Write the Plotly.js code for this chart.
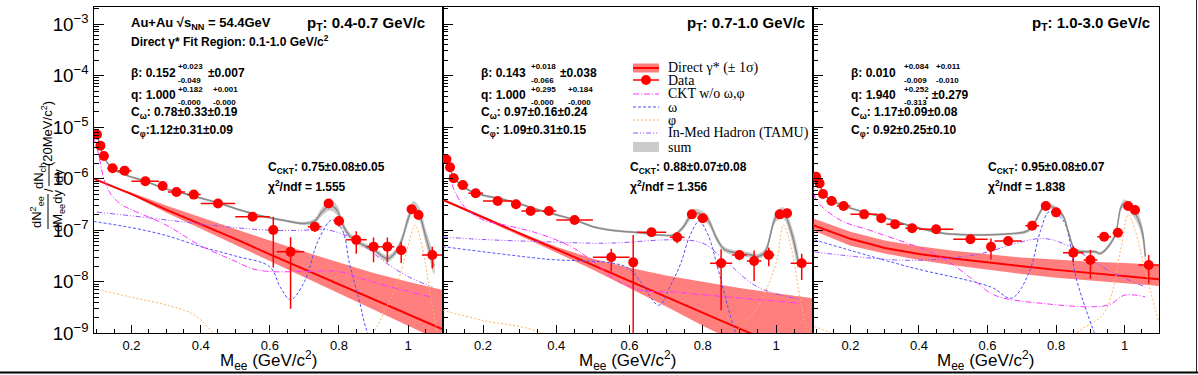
<!DOCTYPE html>
<html><head><meta charset="utf-8">
<script src="https://cdn.plot.ly/plotly-3.0.1.min.js"></script>
<style>body{margin:0;padding:0;background:#fff}#chart{width:1198px;height:375px}</style>
</head><body><div id="chart"></div>
<script>
// ---------- data points (common mass bins) ----------
const mass    = [0.10,0.11,0.12,0.145,0.18,0.24,0.29,0.33,0.38,0.45,0.55,0.61,0.66,0.73,0.77,0.80,0.85,0.90,0.94,0.98,1.01,1.03,1.07];
const massErr = [0.005,0.005,0.01,0.015,0.02,0.04,0.01,0.025,0.02,0.05,0.05,0.01,0.04,0.02,0.01,0.015,0.03,0.02,0.02,0.015,0.01,0.01,0.03];
const p1Y   = [7.2e-6,4.35e-6,2.75e-6,1.59e-6,1.43e-6,8.9e-7,7.2e-7,5.5e-7,4.9e-7,3.3e-7,1.83e-7,1.01e-7,3.8e-8,1.17e-7,3.3e-7,1.51e-7,6.5e-8,4.8e-8,4.8e-8,4.1e-8,2.54e-7,1.97e-7,3.3e-8];
const p1Err = [4e-7,2.5e-7,1.5e-7,1e-7,8e-8,5e-8,1.2e-7,4e-8,3e-8,2e-8,1.5e-8,8.2e-8,3.5e-8,2.4e-8,4e-8,3.4e-8,3e-8,2.4e-8,2.4e-8,1.8e-8,3e-8,2.5e-8,1.5e-8];
const p2Y   = [2.37e-6,1.66e-6,1.02e-6,7.5e-7,5.2e-7,3.68e-7,3.18e-7,2.36e-7,2.36e-7,1.58e-7,2.98e-8,2.38e-8,9.1e-8,7.3e-8,2.03e-7,1.7e-7,2.28e-8,3.3e-8,2.53e-8,3.3e-8,2.03e-7,2.13e-7,2.28e-8];
const p2Err = [1.5e-7,1e-7,7e-8,5e-8,3e-8,2.5e-8,2e-8,1.5e-8,1.5e-8,1.2e-8,1.4e-8,5.7e-8,1e-8,1.7e-8,2e-8,2e-8,2e-8,7e-9,1.5e-8,1.3e-8,2.5e-8,2.5e-8,1.2e-8];
const p3Y   = [1.09e-6,8.1e-7,5.04e-7,3.68e-7,2.94e-7,2.03e-7,1.7e-7,1.3e-7,1.09e-7,1.04e-7,6.65e-8,4.79e-8,6.16e-8,1.22e-7,2.94e-7,2.22e-7,3.66e-8,2.64e-8,7.48e-8,8.93e-8,2.94e-7,2.47e-7,2.11e-8];
const p3Err = [6e-8,4e-8,3e-8,2e-8,1.5e-8,1.2e-8,1e-8,8e-9,7e-9,6e-9,5e-9,2.1e-8,8e-9,1.2e-8,2e-8,1.8e-8,1.3e-8,1.5e-8,8e-9,8e-9,2e-8,2e-8,1.2e-8];

// ---------- direct photon (central, +1 sigma, -1 sigma) ----------
const directM  = [0.09,0.15,0.2,0.3,0.4,0.5,0.6,0.7,0.8,0.9,1.0,1.1];
const p1Direct   = [1.0e-6,6.8e-7,5.0e-7,2.5e-7,1.32e-7,6.8e-8,3.4e-8,1.74e-8,8.9e-9,4.6e-9,2.3e-9,1.2e-9];
const p1DirectHi = [1.0e-6,6.9e-7,5.4e-7,3.0e-7,1.78e-7,1.05e-7,6.3e-8,3.8e-8,2.34e-8,1.48e-8,1.0e-8,6.9e-9];
const p1DirectLo = [1.0e-6,6.6e-7,4.8e-7,2.2e-7,1.07e-7,5.1e-8,2.5e-8,1.2e-8,5.9e-9,2.8e-9,1.4e-9,6.8e-10];
const p2Direct   = [3.9e-7,2.5e-7,1.78e-7,8.7e-8,4.27e-8,2.14e-8,1.05e-8,5.1e-9,2.5e-9,1.23e-9,6.3e-10,3.2e-10];
const p2DirectHi = [3.9e-7,2.57e-7,1.82e-7,9.1e-8,4.8e-8,2.8e-8,1.86e-8,1.32e-8,1.0e-8,7.6e-9,6.0e-9,4.8e-9];
const p2DirectLo = [3.8e-7,2.45e-7,1.7e-7,7.9e-8,3.7e-8,1.7e-8,7.6e-9,3.3e-9,1.4e-9,6.3e-10,2.8e-10,1.26e-10];
const p3Direct   = [1.26e-7,8.9e-8,6.8e-8,4.5e-8,3.47e-8,2.82e-8,2.34e-8,2.0e-8,1.7e-8,1.48e-8,1.29e-8,1.12e-8];
const p3DirectHi = [1.7e-7,1.23e-7,9.3e-8,6.3e-8,4.9e-8,4.0e-8,3.4e-8,2.95e-8,2.7e-8,2.45e-8,2.3e-8,2.14e-8];
const p3DirectLo = [1.0e-7,6.9e-8,5.0e-8,3.55e-8,2.63e-8,2.1e-8,1.7e-8,1.41e-8,1.2e-8,1.05e-8,9.3e-9,8.3e-9];

// ---------- sum of all sources (central + relative band half-width) ----------
const p1SumM = [0.1,0.11,0.12,0.145,0.18,0.24,0.3,0.35,0.4,0.45,0.5,0.55,0.6,0.65,0.7,0.73,0.75,0.775,0.795,0.81,0.83,0.86,0.9,0.94,0.96,0.98,1.0,1.015,1.03,1.05,1.075];
const p1Sum  = [7.1e-6,4.2e-6,2.6e-6,1.58e-6,1.2e-6,8.9e-7,6.3e-7,5.2e-7,4.2e-7,3.4e-7,2.63e-7,2.1e-7,1.74e-7,1.51e-7,1.35e-7,1.51e-7,2.24e-7,3.0e-7,2.4e-7,1.32e-7,7.9e-8,5.6e-8,4.2e-8,2.8e-8,3.5e-8,6.0e-8,1.66e-7,2.8e-7,2.24e-7,7.9e-8,2.0e-8];
const p1SumErr = [0.05,0.05,0.05,0.05,0.05,0.05,0.05,0.05,0.05,0.05,0.05,0.05,0.06,0.06,0.08,0.12,0.2,0.25,0.25,0.2,0.15,0.12,0.12,0.15,0.15,0.2,0.25,0.3,0.35,0.4,0.45];
const p2SumM = [0.1,0.11,0.12,0.145,0.18,0.24,0.29,0.35,0.45,0.5,0.55,0.63,0.72,0.745,0.775,0.81,0.84,0.86,0.93,0.95,0.97,1.0,1.02,1.04,1.06];
const p2Sum  = [2.4e-6,1.58e-6,1.05e-6,7.1e-7,5.2e-7,4.2e-7,3.4e-7,2.5e-7,1.58e-7,1.17e-7,1.0e-7,8.9e-8,8.1e-8,1.12e-7,2.14e-7,1.7e-7,6.5e-8,4.2e-8,3.3e-8,3.1e-8,3.8e-8,1.82e-7,2.14e-7,1.0e-7,2.6e-8];
const p2SumErr = [0.05,0.05,0.05,0.05,0.05,0.05,0.05,0.05,0.05,0.05,0.05,0.05,0.05,0.12,0.2,0.2,0.15,0.12,0.12,0.12,0.15,0.25,0.3,0.35,0.45];
const p3SumM = [0.1,0.11,0.12,0.145,0.185,0.24,0.29,0.385,0.47,0.566,0.66,0.72,0.765,0.779,0.818,0.837,0.856,0.914,0.93,0.97,0.99,1.0,1.03,1.05,1.06];
const p3Sum  = [1.1e-6,7.9e-7,5.2e-7,3.8e-7,2.9e-7,2.24e-7,1.82e-7,1.17e-7,8.7e-8,8.1e-8,8.5e-8,1.0e-7,2.9e-7,3.0e-7,2.0e-7,8.7e-8,4.2e-8,3.8e-8,3.55e-8,7.4e-8,2.9e-7,3.3e-7,2.14e-7,1.0e-7,3.1e-8];
const p3SumErr = [0.05,0.05,0.05,0.05,0.05,0.05,0.05,0.05,0.05,0.05,0.05,0.08,0.12,0.12,0.12,0.1,0.08,0.08,0.08,0.1,0.15,0.2,0.3,0.35,0.4];

// ---------- CKT w/o omega,phi ----------
const p1CktM = [0.09,0.1,0.11,0.12,0.14,0.17,0.2,0.3,0.4,0.5,0.55,0.6,0.7,0.8,0.87,0.95,1.07];
const p1Ckt  = [6.3e-6,4.0e-6,2.0e-6,1.0e-6,5.0e-7,3.16e-7,2.5e-7,1.26e-7,5.0e-8,2.5e-8,1.78e-8,1.58e-8,1.58e-8,1.58e-8,1.12e-8,7.9e-9,5.0e-9];
const p2CktM = [0.09,0.1,0.11,0.12,0.15,0.2,0.26,0.35,0.44,0.5,0.56,0.63,0.72,0.85,0.95,1.07];
const p2Ckt  = [3.16e-6,2.0e-6,1.12e-6,6.3e-7,2.8e-7,1.58e-7,1.26e-7,8.7e-8,4.8e-8,2.5e-8,1.12e-8,6.9e-9,6.3e-9,5.2e-9,4.5e-9,3.8e-9];
const p3CktM = [0.09,0.1,0.17,0.27,0.46,0.56,0.62,0.76,0.95,1.0,1.06];
const p3Ckt  = [7.9e-7,3.9e-7,1.58e-7,9.3e-8,3.1e-8,1.07e-8,5.5e-9,3.8e-9,3.5e-9,5.5e-9,5.1e-9];

// ---------- omega ----------
const p1OmegaM = [0.09,0.2,0.3,0.4,0.5,0.6,0.63,0.66,0.7,0.74,0.78,0.81,0.83,0.86,0.88,0.95];
const p1Omega  = [1.48e-7,1.12e-7,7.9e-8,4.8e-8,3.16e-8,1.95e-8,7.9e-9,4.5e-9,1.0e-8,6.3e-8,1.58e-7,1.0e-7,2.3e-8,4.0e-9,1.15e-9,1e-10];
const p2OmegaM = [0.09,0.36,0.59,0.63,0.68,0.71,0.74,0.765,0.79,0.815,0.84,0.89,0.95];
const p2Omega  = [4.8e-8,2.8e-8,1.95e-8,1.0e-8,3.5e-9,7.9e-9,2.3e-8,7.9e-8,1.48e-7,7.9e-8,1.95e-8,1.0e-9,1e-10];
const p3OmegaM = [0.095,0.37,0.61,0.67,0.72,0.755,0.78,0.82,0.86,0.91,0.97];
const p3Omega  = [6.5e-8,1.95e-8,7.9e-9,4.8e-9,1.45e-8,1.0e-7,2.3e-7,1.58e-7,1.07e-8,1.07e-9,1e-10];

// ---------- phi ----------
const p1PhiM = [0.09,0.2,0.3,0.38,0.44,0.5,0.85,0.9,0.93,0.97,1.0,1.02,1.04,1.07,1.1];
const p1Phi  = [7.4e-9,5.0e-9,3.55e-9,2.3e-9,9.3e-10,2.5e-10,2.5e-10,1.0e-9,2.5e-9,1.0e-8,5.0e-8,1.26e-7,5.0e-8,3.16e-9,3.16e-10];
const p2PhiM = [0.09,0.2,0.36,0.5,0.85,0.89,0.95,1.0,1.02,1.04,1.07,1.1];
const p2Phi  = [2.8e-9,1.78e-9,1.0e-9,1.6e-10,1.6e-10,1.0e-9,3.3e-9,2.3e-8,1.26e-7,5.0e-8,3.16e-9,3.16e-10];
const p3PhiM = [0.095,0.18,0.3,0.8,0.86,0.94,0.99,1.01,1.03,1.06,1.1];
const p3Phi  = [1.35e-9,7.9e-10,2.5e-10,2.5e-10,1.0e-9,2.5e-9,4.8e-8,2.0e-7,1.0e-7,1.58e-8,1.58e-9];

// ---------- in-medium hadron (TAMU) ----------
const p1TamuM = [0.1,0.2,0.3,0.4,0.5,0.6,0.7,0.75,0.8,0.85,0.9,0.95,1.0,1.07];
const p1Tamu  = [2.24e-7,1.9e-7,1.58e-7,1.32e-7,1.12e-7,1.0e-7,1.0e-7,1.05e-7,8.9e-8,6.3e-8,3.55e-8,2.0e-8,1.26e-8,7.9e-9];
const p2TamuM = [0.09,0.2,0.36,0.54,0.72,0.8,0.86,0.95,1.07];
const p2Tamu  = [7.4e-8,6.6e-8,6.0e-8,5.6e-8,6.5e-8,5.6e-8,2.6e-8,7.9e-9,4.5e-9];
const p3TamuM = [0.095,0.37,0.56,0.76,0.84,0.95,1.06];
const p3Tamu  = [3.8e-8,2.6e-8,3.3e-8,6.9e-8,4.8e-8,1.7e-8,7.9e-9];

// ---------- labels ----------
const xTickVals = [0.2,0.4,0.6,0.8,1];
const xTickText = ['0.2','0.4','0.6','0.8','1'];
const ptLabels = ['p<sub>T</sub>: 0.4-0.7 GeV/c','p<sub>T</sub>: 0.7-1.0 GeV/c','p<sub>T</sub>: 1.0-3.0 GeV/c'];
const legendLabels = ['Direct γ* (± 1σ)','Data','CKT w/o ω,φ','ω','φ','In-Med Hadron (TAMU)','sum'];

// ================= drawing =================
const W = 1198, H = 375;
const PX = x => x / W, PY = y => 1 - y / H;
const COL = {red:'#ff0000', band:'rgba(255,0,0,0.5)', sum:'#8a8a8a', sumBand:'rgba(160,160,160,0.55)',
  ckt:'#ff33ff', omega:'#4d4dff', phi:'#ffb060', tamu:'#9a4dff'};

const panels = [
  {ax:'', y:p1Y, err:p1Err, d:p1Direct, dh:p1DirectHi, dl:p1DirectLo, sm:p1SumM, s:p1Sum, se:p1SumErr,
   cm:p1CktM, c:p1Ckt, om:p1OmegaM, o:p1Omega, fm:p1PhiM, f:p1Phi, tm:p1TamuM, t:p1Tamu},
  {ax:'2', y:p2Y, err:p2Err, d:p2Direct, dh:p2DirectHi, dl:p2DirectLo, sm:p2SumM, s:p2Sum, se:p2SumErr,
   cm:p2CktM, c:p2Ckt, om:p2OmegaM, o:p2Omega, fm:p2PhiM, f:p2Phi, tm:p2TamuM, t:p2Tamu},
  {ax:'3', y:p3Y, err:p3Err, d:p3Direct, dh:p3DirectHi, dl:p3DirectLo, sm:p3SumM, s:p3Sum, se:p3SumErr,
   cm:p3CktM, c:p3Ckt, om:p3OmegaM, o:p3Omega, fm:p3PhiM, f:p3Phi, tm:p3TamuM, t:p3Tamu}
];

const traces = [];
panels.forEach(p => {
  const xa = 'x' + p.ax, ya = 'y' + p.ax;
  const base = {xaxis:xa, yaxis:ya, hoverinfo:'skip', showlegend:false};
  traces.push(Object.assign({}, base, {x: directM.concat(directM.slice().reverse()),
    y: p.dh.concat(p.dl.slice().reverse()), mode:'lines', fill:'toself', fillcolor:COL.band, line:{width:0}}));
  traces.push(Object.assign({}, base, {x: directM, y: p.d, mode:'lines', line:{color:COL.red, width:2}}));
  traces.push(Object.assign({}, base, {x:p.fm, y:p.f, mode:'lines', line:{color:COL.phi, width:1, dash:'2px,2px', shape:'spline'}}));
  traces.push(Object.assign({}, base, {x:p.tm, y:p.t, mode:'lines', line:{color:COL.tamu, width:1, dash:'5px,2px,1px,2px,1px,2px', shape:'spline'}}));
  traces.push(Object.assign({}, base, {x:p.om, y:p.o, mode:'lines', line:{color:COL.omega, width:1, dash:'3px,2px', shape:'spline'}}));
  traces.push(Object.assign({}, base, {x:p.cm, y:p.c, mode:'lines', line:{color:COL.ckt, width:1, dash:'6px,2px,1px,2px', shape:'spline'}}));
  const hi = p.s.map((v,i) => v * (1 + p.se[i]));
  const lo = p.s.map((v,i) => v / (1 + p.se[i]));
  traces.push(Object.assign({}, base, {x: p.sm.concat(p.sm.slice().reverse()), y: hi.concat(lo.slice().reverse()),
    mode:'lines', fill:'toself', fillcolor:COL.sumBand, line:{width:0, shape:'spline'}}));
  traces.push(Object.assign({}, base, {x:p.sm, y:p.s, mode:'lines', line:{color:COL.sum, width:1.5, shape:'spline'}}));
  traces.push(Object.assign({}, base, {x:mass, y:p.y, mode:'markers', marker:{color:COL.red, size:10},
    error_y:{type:'data', array:p.err, color:COL.red, thickness:1.5, width:0},
    error_x:{type:'data', array:massErr, color:COL.red, thickness:1.5, width:0}}));
});

const fontSans = 'Liberation Sans, Arial, sans-serif';
function xAxis(l, r) {
  return {domain:[PX(l), PX(r)], range:[0.09, 1.1], tickmode:'array', tickvals:xTickVals, ticktext:xTickText,
    ticks:'inside', ticklen:8, tickcolor:'#000', tickwidth:1, showgrid:false, zeroline:false,
    showline:true, mirror:true, linecolor:'#000', linewidth:1,
    tickfont:{family:fontSans, size:13, color:'#000'},
    minor:{tickmode:'linear', tick0:0, dtick:0.05, ticks:'inside', ticklen:4, tickcolor:'#000', showgrid:false}};
}
function yAxis(anchor, labels) {
  return {anchor:anchor, type:'log', domain:[PY(333.3), PY(7.3)], range:[-9, -2.676], dtick:1, exponentformat:'power',
    ticks:'inside', ticklen:10, tickcolor:'#000', showgrid:false, zeroline:false,
    showline:true, mirror:true, linecolor:'#000', linewidth:1, showticklabels:labels, ticklabelstandoff:1,
    tickfont:{family:fontSans, size:15, color:'#000'},
    minor:{ticks:'inside', ticklen:5, tickcolor:'#000', dtick:'D1', showgrid:false}};
}

const ann = [];
function T(x, y, text, size, opt) {
  ann.push(Object.assign({xref:'paper', yref:'paper', x:PX(x), y:PY(y), text:text, showarrow:false,
    xanchor:'left', yanchor:'middle', font:{family:fontSans, size:size, color:'#000'}}, opt || {}));
}
const B = s => '<b>' + s + '</b>';

// panel 1 texts
T(129, 23, B('Au+Au √s<sub>NN</sub> = 54.4GeV'), 13);
T(129, 41, B('Direct γ* Fit Region: 0.1-1.0 GeV/c<sup>2</sup>'), 12);
T(427, 23, B(ptLabels[0]), 15, {xanchor:'right'});
T(129, 73, B('β: 0.152'), 12); T(176, 67, B('+0.023'), 8); T(176, 80, B('-0.049'), 8); T(206, 73, B('±0.007'), 12);
T(129, 95, B('q: 1.000'), 12); T(176, 89, B('+0.182'), 8); T(176, 102, B('-0.000'), 8); T(211, 89, B('+0.001'), 8); T(211, 102, B('-0.000'), 8);
T(129, 113, B('C<sub>ω</sub>: 0.78±0.33±0.19'), 12);
T(129, 131, B('C<sub>φ</sub>:1.12±0.31±0.09'), 12);
T(266, 168, B('C<sub>CKT</sub>: 0.75±0.08±0.05'), 12);
T(266, 186, B('χ<sup>2</sup>/ndf = 1.555'), 12);
// panel 2 texts
T(807, 23, B(ptLabels[1]), 15, {xanchor:'right'});
T(479, 73, B('β: 0.143'), 12); T(529, 67, B('+0.018'), 8); T(529, 80, B('-0.066'), 8); T(558, 73, B('±0.038'), 12);
T(479, 95, B('q: 1.000'), 12); T(529, 89, B('+0.295'), 8); T(529, 102, B('-0.000'), 8); T(566, 89, B('+0.184'), 8); T(566, 102, B('-0.000'), 8);
T(479, 113, B('C<sub>ω</sub>: 0.97±0.16±0.24'), 12);
T(479, 131, B('C<sub>φ</sub>: 1.09±0.31±0.15'), 12);
T(628, 168, B('C<sub>CKT</sub>: 0.88±0.07±0.08'), 12);
T(628, 186, B('χ<sup>2</sup>/ndf = 1.356'), 12);
// panel 3 texts
T(1152, 23, B(ptLabels[2]), 15, {xanchor:'right'});
T(849, 73, B('β: 0.010'), 12); T(902, 67, B('+0.084'), 8); T(902, 80, B('-0.009'), 8); T(934, 67, B('+0.011'), 8); T(934, 80, B('-0.010'), 8);
T(849, 95, B('q: 1.940'), 12); T(902, 89, B('+0.252'), 8); T(902, 102, B('-0.313'), 8); T(923, 95, B('. ±0.279'), 12);
T(849, 113, B('C<sub>ω</sub>: 1.17±0.09±0.08'), 12);
T(849, 131, B('C<sub>φ</sub>: 0.92±0.25±0.10'), 12);
T(986, 168, B('C<sub>CKT</sub>: 0.95±0.08±0.07'), 12);
T(986, 186, B('χ<sup>2</sup>/ndf = 1.838'), 12);

// x titles
[268, 627.7, 985.8].forEach(cx => T(cx, 360, 'M<sub>ee</sub> (GeV/c<sup>2</sup>)', 17, {xanchor:'center'}));
// y title (rotated pieces of the ROOT fraction)
const rot = {textangle:-90, xanchor:'center', yanchor:'middle'};
T(37, 212, 'dN<sup>2</sup><sub>ee</sub>', 13, rot);
T(58, 211, 'dM<sub>ee</sub>dy', 13, rot);
T(48, 190, '/', 13, rot);
T(39, 176, 'dN<sub>ch</sub>', 13, rot);
T(58, 176, 'dy', 13, rot);
T(47, 134, '(20MeV/c<sup>2</sup>)', 13, rot);

// legend texts
const legY = [68, 80, 94, 107, 120, 133, 147];
legendLabels.forEach((s, i) => T(666, legY[i], s, 14, {font:{family:'Liberation Serif, Times New Roman, serif', size:14, color:'#000'}}));

const shapes = [];
function L(x0, y0, x1, y1, color, width, dash) {
  shapes.push({type:'line', xref:'paper', yref:'paper', x0:PX(x0), y0:PY(y0), x1:PX(x1), y1:PY(y1),
    line:{color:color, width:width, dash:dash || 'solid'}});
}
function R(x0, y0, x1, y1, fill) {
  shapes.push({type:'rect', xref:'paper', yref:'paper', x0:PX(x0), y0:PY(y0), x1:PX(x1), y1:PY(y1),
    fillcolor:fill, line:{width:0}});
}
// y-title fraction bars
L(48, 194, 48, 229, '#000', 1);
L(49, 165, 49, 186, '#000', 1);
// legend symbols
R(633, 63.5, 659, 72.5, COL.band); L(633, 68, 659, 68, COL.red, 2);
L(633, 80, 659, 80, COL.red, 1.5);
shapes.push({type:'circle', xref:'paper', yref:'paper', x0:PX(641), x1:PX(651), y0:PY(75), y1:PY(85), fillcolor:COL.red, line:{width:0}});
L(633, 94, 659, 94, COL.ckt, 1, '6px,2px,1px,2px');
L(633, 107, 659, 107, COL.omega, 1, '3px,2px');
L(633, 120, 659, 120, COL.phi, 1, '2px,2px');
L(633, 133, 659, 133, COL.tamu, 1, '5px,2px,1px,2px,1px,2px');
R(633, 142, 659, 152, 'rgba(190,190,190,0.8)');
// outer canvas border
L(0, 372.5, 1198, 372.5, '#000', 2);
L(1196.5, 0, 1196.5, 372, '#222', 1);

const layout = {
  width:W, height:H, margin:{l:0, r:0, t:0, b:0}, paper_bgcolor:'#fff', plot_bgcolor:'#fff', showlegend:false,
  xaxis: xAxis(93.5, 442.7), xaxis2: Object.assign(xAxis(442.7, 812.7), {anchor:'y2'}), xaxis3: Object.assign(xAxis(812.7, 1159), {anchor:'y3'}),
  yaxis: yAxis('x', true), yaxis2: yAxis('x2', false), yaxis3: yAxis('x3', false),
  annotations: ann, shapes: shapes
};
layout.xaxis.anchor = 'y';

Plotly.newPlot('chart', traces, layout, {staticPlot:true, displayModeBar:false});
</script></body></html>
